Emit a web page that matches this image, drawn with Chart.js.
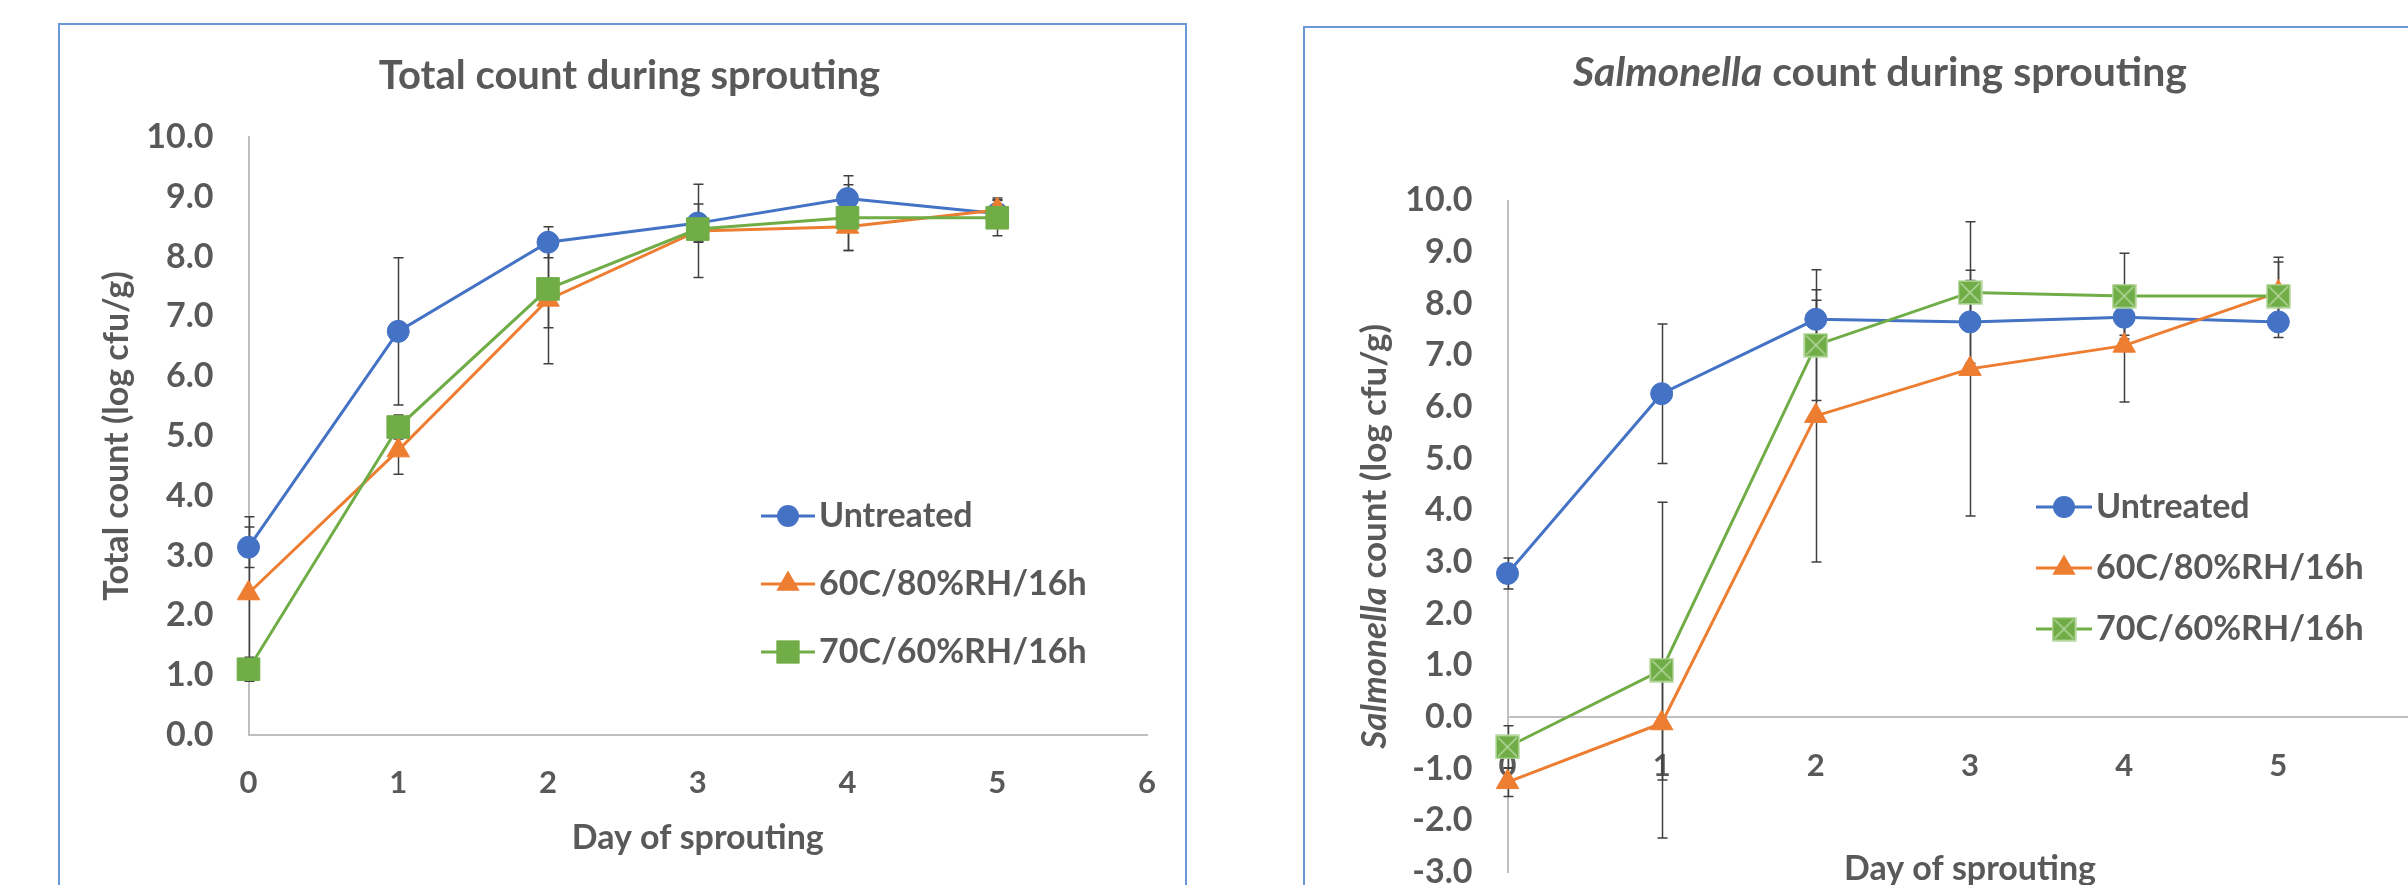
<!DOCTYPE html>
<html>
<head>
<meta charset="utf-8">
<script src="https://cdn.jsdelivr.net/npm/chart.js@4.4.1/dist/chart.umd.min.js"></script>
<style>
  html, body { margin: 0; padding: 0; background: #fff; overflow: hidden; width: 2408px; height: 885px; }
  .frame { position: absolute; border: 2px solid #6a98d6; box-sizing: border-box; }
  canvas { position: absolute; top: 0; }
</style>
</head>
<body>
<div class="frame" style="left:58px; top:23px; width:1129px; height:900px;"></div>
<div class="frame" style="left:1303px; top:26px; width:1200px; height:900px;"></div>
<canvas id="totalChart" width="1250" height="940" style="left:0"></canvas>
<canvas id="salmChart" width="1300" height="940" style="left:1250px"></canvas>
<script>
const days = [0, 1, 2, 3, 4, 5];
const dayRange = [0, 6];
const seriesNames = ["Untreated", "60C/80%RH/16h", "70C/60%RH/16h"];

// Total count (log cfu/g)
const totalUntreated = [3.14, 6.75, 8.24, 8.56, 8.97, 8.72];
const total60C = [2.37, 4.76, 7.28, 8.43, 8.50, 8.78];
const total70C = [1.10, 5.15, 7.46, 8.46, 8.65, 8.65];
const totalUntreatedErr = [0.34, 1.23, 0.26, 0.32, 0.38, 0.22];
const total60CErr = [1.28, 0.40, 1.07, 0.78, 0.40, 0.20];
const total70CErr = [0.20, 0.20, 0.65, 0.20, 0.55, 0.30];
const totalYRange = [0, 10];

// Salmonella count (log cfu/g)
const salmUntreated = [2.78, 6.26, 7.70, 7.65, 7.74, 7.65];
const salm60C = [-1.26, -0.12, 5.83, 6.74, 7.19, 8.22];
const salm70C = [-0.58, 0.91, 7.20, 8.22, 8.15, 8.15];
const salmUntreatedErr = [0.30, 1.35, 0.37, 0.80, 0.35, 0.30];
const salm60CErr = [0.28, 1.10, 2.83, 2.85, 1.09, 0.68];
const salm70CErr = [0.41, 3.25, 1.07, 0.43, 0.83, 0.66];
const salmYRange = [-3, 10];

const colors = { blue: "#4472C4", orange: "#ED7D31", green: "#70AD47", text: "#595959", axis: "#BFBFBF" };

Chart.defaults.font.family = "Lato, 'Open Sans', sans-serif";
Chart.defaults.color = colors.text;

// green square with a light cross, used by the salmonella chart
function crossSquare(side) {
  const c = document.createElement("canvas");
  c.width = side + 2;
  c.height = side + 2;
  const g = c.getContext("2d");
  g.fillStyle = colors.green;
  g.fillRect(1, 1, side, side);
  g.strokeStyle = "#b6d99f";
  g.lineWidth = 1.5;
  g.strokeRect(1, 1, side, side);
  g.beginPath();
  g.moveTo(3, 3); g.lineTo(side - 1, side - 1);
  g.moveTo(side - 1, 3); g.lineTo(3, side - 1);
  g.stroke();
  return c;
}

// excel style legend key: short line with the marker in the middle
function legendIcon(color, marker, width) {
  const c = document.createElement("canvas");
  c.width = width;
  c.height = 30;
  const g = c.getContext("2d");
  g.strokeStyle = color;
  g.lineWidth = 3;
  g.beginPath(); g.moveTo(0, 15); g.lineTo(width, 15); g.stroke();
  const cx = width / 2, cy = 15;
  if (marker instanceof HTMLCanvasElement) {
    g.drawImage(marker, cx - marker.width / 2, cy - marker.height / 2);
    return c;
  }
  g.fillStyle = color;
  g.beginPath();
  if (marker === "circle") {
    g.arc(cx, cy, 11, 0, Math.PI * 2);
  } else if (marker === "triangle") {
    for (let k = 0; k < 3; k++) {
      const a = k * 2 * Math.PI / 3;
      const px = cx + Math.sin(a) * 13.5, py = cy - Math.cos(a) * 13.5;
      if (k) g.lineTo(px, py); else g.moveTo(px, py);
    }
    g.closePath();
  } else {
    const h = 16.5 * Math.SQRT1_2;
    g.rect(cx - h, cy - h, 2 * h, 2 * h);
  }
  g.fill();
  return c;
}

function makeSeries(label, values, errors, color, pointStyle, radius, order) {
  return {
    label: label,
    order: order,
    errors: errors,
    data: days.map((d, i) => ({ x: d, y: values[i] })),
    borderColor: color,
    backgroundColor: color,
    borderWidth: 3,
    pointStyle: pointStyle,
    pointRadius: radius,
    pointHoverRadius: radius,
    pointBackgroundColor: color,
    pointBorderColor: color,
    pointBorderWidth: 1,
    tension: 0,
    clip: false,
  };
}

const errorBars = {
  id: "errorBars",
  beforeDatasetsDraw(chart) {
    const { ctx, scales: { x, y } } = chart;
    ctx.save();
    ctx.strokeStyle = "#404040";
    ctx.lineWidth = 1.5;
    chart.data.datasets.forEach((ds, di) => {
      if (!chart.isDatasetVisible(di) || !ds.errors) return;
      ds.data.forEach((p, i) => {
        const e = ds.errors[i];
        const px = Math.round(x.getPixelForValue(p.x)) + 0.5;
        const top = y.getPixelForValue(p.y + e);
        const bot = y.getPixelForValue(p.y - e);
        ctx.beginPath();
        ctx.moveTo(px, top); ctx.lineTo(px, bot);
        ctx.moveTo(px - 5, top); ctx.lineTo(px + 5, top);
        ctx.moveTo(px - 5, bot); ctx.lineTo(px + 5, bot);
        ctx.stroke();
      });
    });
    ctx.restore();
  },
};

// moves the legend box to a fixed spot inside the plot
const legendPlace = {
  id: "legendPlace",
  afterLayout(chart, args, opts) {
    const lg = chart.legend;
    if (!lg) return;
    lg.left = opts.x;
    lg.top = opts.y;
    lg.right = opts.x + 700;
    lg.bottom = opts.y + 400;
    lg.width = 700;
    lg.height = 400;
  },
};

// titles with an italic word (Salmonella)
function drawParts(ctx, parts, size, tx, ty, rotated) {
  ctx.save();
  ctx.translate(tx, ty);
  if (rotated) ctx.rotate(-Math.PI / 2);
  const fonts = parts.map(p => (p.italic ? "italic " : "") + "bold " + size + "px Lato, 'Open Sans', sans-serif");
  let total = 0;
  const widths = parts.map((p, i) => {
    ctx.font = fonts[i];
    const w = ctx.measureText(p.text).width;
    total += w;
    return w;
  });
  let x = -total / 2;
  ctx.textBaseline = "alphabetic";
  ctx.textAlign = "left";
  ctx.fillStyle = colors.text;
  parts.forEach((p, i) => {
    ctx.font = fonts[i];
    ctx.fillText(p.text, x, 0);
    x += widths[i];
  });
  ctx.restore();
}

const mixedTitles = {
  id: "mixedTitles",
  afterDraw(chart, args, opts) {
    const { ctx, chartArea } = chart;
    drawParts(ctx, opts.title.parts, opts.title.size, opts.title.x, opts.title.baseline, false);
    const cy = (chartArea.top + chartArea.bottom) / 2;
    drawParts(ctx, opts.yTitle.parts, opts.yTitle.size, opts.yTitle.baseline, cy, true);
  },
};

function legendLabels(icons, pointWidth, padding) {
  return {
    usePointStyle: true,
    pointStyleWidth: pointWidth,
    padding: padding,
    color: colors.text,
    font: { size: 34, weight: "bold" },
    sort: (a, b) => a.datasetIndex - b.datasetIndex,
    generateLabels(chart) {
      return Chart.defaults.plugins.legend.labels.generateLabels(chart)
        .map(item => Object.assign(item, { pointStyle: icons[item.datasetIndex] }));
    },
  };
}

const tickFmt = v => Number(v).toFixed(1);

// ---- Total count chart ----
const totalIcons = [
  legendIcon(colors.blue, "circle", 54),
  legendIcon(colors.orange, "triangle", 54),
  legendIcon(colors.green, "rect", 54),
];

new Chart(document.getElementById("totalChart"), {
  type: "line",
  data: {
    datasets: [
      makeSeries(seriesNames[0], totalUntreated, totalUntreatedErr, colors.blue, "circle", 11, 3),
      makeSeries(seriesNames[1], total60C, total60CErr, colors.orange, "triangle", 13, 2),
      makeSeries(seriesNames[2], total70C, total70CErr, colors.green, "rect", 16, 1),
    ],
  },
  options: {
    responsive: false,
    animation: false,
    events: [],
    layout: { padding: { left: 112, right: 103, top: 20, bottom: 55 } },
    plugins: {
      title: {
        display: true,
        text: "Total count during sprouting",
        color: colors.text,
        font: { size: 40, weight: "bold" },
        padding: { top: 32.2, bottom: 36.8 },
      },
      legend: { position: "chartArea", align: "start", labels: legendLabels(totalIcons, 28, 34) },
      legendPlace: { x: 740, y: 465 },
      tooltip: { enabled: false },
    },
    scales: {
      x: {
        type: "linear",
        min: dayRange[0],
        max: dayRange[1],
        grid: { display: false, drawTicks: false },
        border: { display: true, color: colors.axis, width: 2 },
        ticks: { stepSize: 1, padding: 29, font: { size: 31, weight: "bold" }, color: colors.text },
        title: {
          display: true,
          text: "Day of sprouting",
          color: colors.text,
          font: { size: 34, weight: "bold" },
          padding: { top: 0, bottom: 26.6 },
        },
        afterFit: s => { s.height = 150; },
      },
      y: {
        min: totalYRange[0],
        max: totalYRange[1],
        grid: { display: false, drawTicks: false },
        border: { display: true, color: colors.axis, width: 2 },
        ticks: { stepSize: 1, padding: 35, font: { size: 34, weight: "bold" }, color: colors.text, callback: tickFmt },
        title: {
          display: true,
          text: "Total count (log cfu/g)",
          color: colors.text,
          font: { size: 34, weight: "bold" },
          padding: { top: -15.6, bottom: 0 },
        },
        afterFit: s => { s.width = 136.5; },
      },
    },
  },
  plugins: [errorBars, legendPlace],
});

// ---- Salmonella chart ----
const salmCross = crossSquare(23);
const salmIcons = [
  legendIcon(colors.blue, "circle", 56),
  legendIcon(colors.orange, "triangle", 56),
  legendIcon(colors.green, salmCross, 56),
];

new Chart(document.getElementById("salmChart"), {
  type: "line",
  data: {
    datasets: [
      makeSeries(seriesNames[0], salmUntreated, salmUntreatedErr, colors.blue, "circle", 11, 3),
      makeSeries(seriesNames[1], salm60C, salm60CErr, colors.orange, "triangle", 13, 2),
      makeSeries(seriesNames[2], salm70C, salm70CErr, colors.green, salmCross, 13, 1),
    ],
  },
  options: {
    responsive: false,
    animation: false,
    events: [],
    layout: { padding: { left: 0, right: 117.5, top: 200.5, bottom: 68 } },
    plugins: {
      title: { display: false },
      legend: { position: "chartArea", align: "start", labels: legendLabels(salmIcons, 30, 27) },
      legendPlace: { x: 772, y: 463 },
      mixedTitles: {
        title: { parts: [{ text: "Salmonella", italic: true }, { text: " count during sprouting" }], size: 41, x: 630, baseline: 86 },
        yTitle: { parts: [{ text: "Salmonella", italic: true }, { text: " count (log cfu/g)" }], size: 35, baseline: 136 },
      },
      tooltip: { enabled: false },
    },
    scales: {
      x: {
        type: "linear",
        position: { y: 0 },
        min: dayRange[0],
        max: dayRange[1],
        grid: { display: false, drawTicks: false },
        border: { display: true, color: colors.axis, width: 2 },
        ticks: { stepSize: 1, padding: 30.4, font: { size: 31, weight: "bold" }, color: colors.text },
        title: {
          display: true,
          text: "Day of sprouting",
          color: colors.text,
          font: { size: 34, weight: "bold" },
          padding: { top: 0, bottom: 27.6 },
        },
        afterFit: s => { s.height = 200; },
      },
      y: {
        min: salmYRange[0],
        max: salmYRange[1],
        grid: { display: false, drawTicks: false },
        border: { display: true, color: colors.axis, width: 2 },
        ticks: { stepSize: 1, padding: 35, font: { size: 34, weight: "bold" }, color: colors.text, callback: tickFmt },
        title: { display: false },
        afterFit: s => { s.width = 257.5; },
      },
    },
  },
  plugins: [errorBars, legendPlace, mixedTitles],
});
</script>
</body>
</html>
